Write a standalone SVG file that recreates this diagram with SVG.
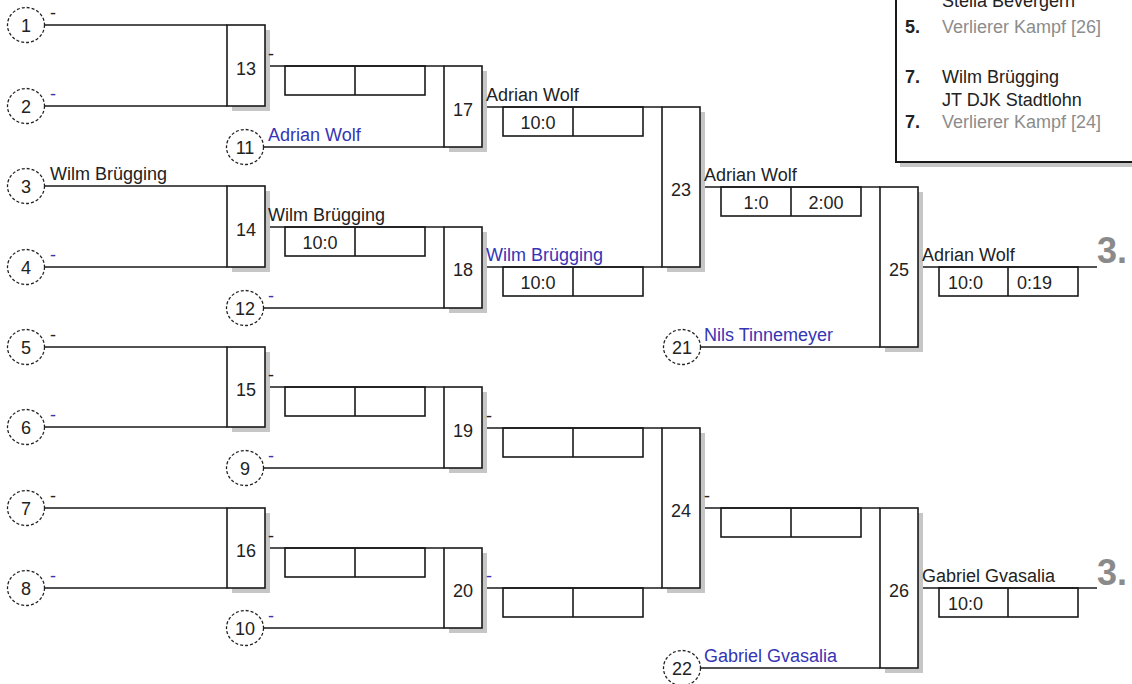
<svg xmlns="http://www.w3.org/2000/svg" width="1132" height="684" viewBox="0 0 1132 684">
<style>
.ln{stroke:#1a1a1a;stroke-width:1.6;fill:none}
.box{fill:#fff;stroke:#1a1a1a;stroke-width:1.6}
.sbox{fill:none;stroke:#1a1a1a;stroke-width:1.6}
.sh{fill:#c6c6c6}
.circ{fill:#fff;stroke:#222;stroke-width:1.3;stroke-dasharray:3 2}
text{font-family:"Liberation Sans",Arial,sans-serif;font-size:18px;fill:#222}
text.b{fill:#3535b5}
text.c{text-anchor:middle}
text.g{fill:#8c8c8c}
text.bold{font-weight:bold}
text.three{font-size:36px;font-weight:bold;fill:#8a8a8a}
</style>
<rect width="1132" height="684" fill="#fff"/>

<g id="legend">
<rect class="sh" x="900" y="-10" width="250" height="177"/>
<rect x="896" y="-10" width="250" height="172" fill="#fff" stroke="#1a1a1a" stroke-width="2"/>
<text x="942" y="7">Stella Bevergern</text>
<text class="bold" x="905" y="33">5.</text>
<text class="g" x="942" y="33">Verlierer Kampf [26]</text>
<text class="bold" x="905" y="83">7.</text>
<text x="942" y="83">Wilm Brügging</text>
<text x="942" y="106">JT DJK Stadtlohn</text>
<text class="bold" x="905" y="128">7.</text>
<text class="g" x="942" y="128">Verlierer Kampf [24]</text>
</g>

<g id="connectors">
<path class="ln" d="M44 25H227M44 106H227M44 186H227M44 267H227M44 347H227M44 427H227M44 508H227M44 588H227"/>
<path class="ln" d="M263 147H444M263 308H444M263 468H444M263 628H444"/>
<path class="ln" d="M700 347H880M700 668H880"/>
<path class="ln" d="M265 66H444M265 227H444M265 387H444M265 548H444"/>
<path class="ln" d="M482 107H662M482 267H662M482 428H662M482 588H662"/>
<path class="ln" d="M700 187H880M700 508H880"/>
<path class="ln" d="M918 267H1097M918 588H1097"/>
</g>

<g id="seed-1"><ellipse class="circ" cx="26" cy="25" rx="18.5" ry="17.5"/><text class="c" x="26" y="32">1</text><text x="50" y="19">-</text></g>
<g id="seed-2"><ellipse class="circ" cx="26" cy="106" rx="18.5" ry="17.5"/><text class="c" x="26" y="113">2</text><text class="b" x="50" y="100">-</text></g>
<g id="seed-3"><ellipse class="circ" cx="26" cy="186" rx="18.5" ry="17.5"/><text class="c" x="26" y="193">3</text><text x="50" y="180">Wilm Brügging</text></g>
<g id="seed-4"><ellipse class="circ" cx="26" cy="267" rx="18.5" ry="17.5"/><text class="c" x="26" y="274">4</text><text class="b" x="50" y="261">-</text></g>
<g id="seed-5"><ellipse class="circ" cx="26" cy="347" rx="18.5" ry="17.5"/><text class="c" x="26" y="354">5</text><text x="50" y="341">-</text></g>
<g id="seed-6"><ellipse class="circ" cx="26" cy="427" rx="18.5" ry="17.5"/><text class="c" x="26" y="434">6</text><text class="b" x="50" y="421">-</text></g>
<g id="seed-7"><ellipse class="circ" cx="26" cy="508" rx="18.5" ry="17.5"/><text class="c" x="26" y="515">7</text><text x="50" y="502">-</text></g>
<g id="seed-8"><ellipse class="circ" cx="26" cy="588" rx="18.5" ry="17.5"/><text class="c" x="26" y="595">8</text><text class="b" x="50" y="582">-</text></g>
<g id="seed-11"><ellipse class="circ" cx="245" cy="147" rx="18.5" ry="17.5"/><text class="c" x="245" y="154">11</text><text class="b" x="268" y="141">Adrian Wolf</text></g>
<g id="seed-12"><ellipse class="circ" cx="245" cy="308" rx="18.5" ry="17.5"/><text class="c" x="245" y="315">12</text><text class="b" x="268" y="302">-</text></g>
<g id="seed-9"><ellipse class="circ" cx="245" cy="468" rx="18.5" ry="17.5"/><text class="c" x="245" y="475">9</text><text class="b" x="268" y="462">-</text></g>
<g id="seed-10"><ellipse class="circ" cx="245" cy="628" rx="18.5" ry="17.5"/><text class="c" x="245" y="635">10</text><text class="b" x="268" y="622">-</text></g>
<g id="seed-21"><ellipse class="circ" cx="682" cy="347" rx="18.5" ry="17.5"/><text class="c" x="682" y="354">21</text><text class="b" x="704" y="341">Nils Tinnemeyer</text></g>
<g id="seed-22"><ellipse class="circ" cx="682" cy="668" rx="18.5" ry="17.5"/><text class="c" x="682" y="675">22</text><text class="b" x="704" y="662">Gabriel Gvasalia</text></g>

<g id="match-13"><rect class="sh" x="232" y="30" width="38" height="81"/><rect class="box" x="227" y="25" width="38" height="81"/><text class="c" x="246" y="74.5">13</text><text x="268" y="60">-</text><rect class="sbox" x="285" y="66" width="140" height="29"/><path class="ln" d="M355 66V95"/></g>
<g id="match-14"><rect class="sh" x="232" y="191" width="38" height="81"/><rect class="box" x="227" y="186" width="38" height="81"/><text class="c" x="246" y="235.5">14</text><text x="268" y="221">Wilm Brügging</text><rect class="sbox" x="285" y="227" width="140" height="29"/><path class="ln" d="M355 227V256"/><text class="c" x="320" y="248.5">10:0</text></g>
<g id="match-15"><rect class="sh" x="232" y="352" width="38" height="80"/><rect class="box" x="227" y="347" width="38" height="80"/><text class="c" x="246" y="395.5">15</text><text x="268" y="381">-</text><rect class="sbox" x="285" y="387" width="140" height="29"/><path class="ln" d="M355 387V416"/></g>
<g id="match-16"><rect class="sh" x="232" y="513" width="38" height="80"/><rect class="box" x="227" y="508" width="38" height="80"/><text class="c" x="246" y="556.5">16</text><text x="268" y="542">-</text><rect class="sbox" x="285" y="548" width="140" height="29"/><path class="ln" d="M355 548V577"/></g>

<g id="match-17"><rect class="sh" x="449" y="71" width="38" height="81"/><rect class="box" x="444" y="66" width="38" height="81"/><text class="c" x="463" y="115.5">17</text><text x="486" y="101">Adrian Wolf</text><rect class="sbox" x="503" y="107" width="140" height="29"/><path class="ln" d="M573 107V136"/><text class="c" x="538" y="128.5">10:0</text></g>
<g id="match-18"><rect class="sh" x="449" y="232" width="38" height="81"/><rect class="box" x="444" y="227" width="38" height="81"/><text class="c" x="463" y="275.5">18</text><text class="b" x="486" y="261">Wilm Brügging</text><rect class="sbox" x="503" y="267" width="140" height="29"/><path class="ln" d="M573 267V296"/><text class="c" x="538" y="288.5">10:0</text></g>
<g id="match-19"><rect class="sh" x="449" y="392" width="38" height="81"/><rect class="box" x="444" y="387" width="38" height="81"/><text class="c" x="463" y="436.5">19</text><text x="486" y="422">-</text><rect class="sbox" x="503" y="428" width="140" height="29"/><path class="ln" d="M573 428V457"/></g>
<g id="match-20"><rect class="sh" x="449" y="553" width="38" height="80"/><rect class="box" x="444" y="548" width="38" height="80"/><text class="c" x="463" y="596.5">20</text><text class="b" x="486" y="582">-</text><rect class="sbox" x="503" y="588" width="140" height="29"/><path class="ln" d="M573 588V617"/></g>

<g id="match-23"><rect class="sh" x="667" y="112" width="38" height="160"/><rect class="box" x="662" y="107" width="38" height="160"/><text class="c" x="681" y="195.5">23</text><text x="704" y="181">Adrian Wolf</text><rect class="sbox" x="721" y="187" width="140" height="29"/><path class="ln" d="M791 187V216"/><text class="c" x="756" y="208.5">1:0</text><text class="c" x="826" y="208.5">2:00</text></g>
<g id="match-24"><rect class="sh" x="667" y="433" width="38" height="160"/><rect class="box" x="662" y="428" width="38" height="160"/><text class="c" x="681" y="516.5">24</text><text x="704" y="502">-</text><rect class="sbox" x="721" y="508" width="140" height="29"/><path class="ln" d="M791 508V537"/></g>

<g id="match-25"><rect class="sh" x="885" y="192" width="38" height="160"/><rect class="box" x="880" y="187" width="38" height="160"/><text class="c" x="899" y="275.5">25</text><text x="922" y="261">Adrian Wolf</text><rect class="sbox" x="939" y="267" width="139" height="29"/><path class="ln" d="M1008 267V296"/><text x="948" y="289">10:0</text><text x="1017" y="289">0:19</text><text class="three" x="1097" y="263">3.</text></g>
<g id="match-26"><rect class="sh" x="885" y="513" width="38" height="160"/><rect class="box" x="880" y="508" width="38" height="160"/><text class="c" x="899" y="596.5">26</text><text x="922" y="582">Gabriel Gvasalia</text><rect class="sbox" x="939" y="588" width="139" height="29"/><path class="ln" d="M1008 588V617"/><text x="948" y="610">10:0</text><text class="three" x="1097" y="585">3.</text></g>
</svg>
